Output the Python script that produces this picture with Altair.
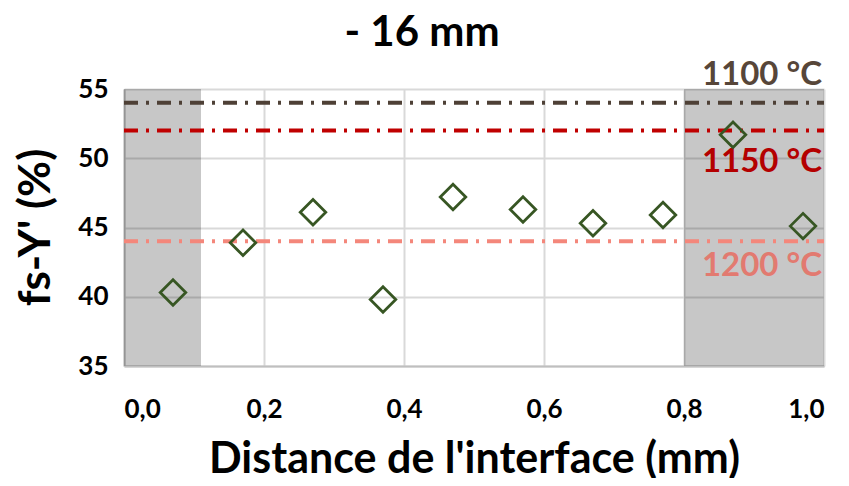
import altair as alt
import pandas as pd

# data
distance = [0.07, 0.17, 0.27, 0.37, 0.47, 0.57, 0.67, 0.77, 0.87, 0.97]
fraction = [40.3, 43.9, 46.1, 39.8, 47.2, 46.3, 45.3, 45.9, 51.7, 45.1]

temps = ["1100 °C", "1150 °C", "1200 °C"]
temp_values = [54.0, 52.0, 44.0]
temp_colors = ["#4e4036", "#c00000", "#f4877b"]
label_colors = ["#574639", "#b40000", "#e27a70"]
label_dy = [-28, 31, 25]

band_start = [0.0, 0.8]
band_end = [0.11, 1.0]

FONT = "Lato"

pts = pd.DataFrame({"x": distance, "y": fraction})
refs = pd.DataFrame({"t": temps, "v": temp_values, "c": temp_colors,
                     "lc": label_colors, "x": [1.0] * 3})
bands = pd.DataFrame({"x": band_start, "x2": band_end})

xscale = alt.Scale(domain=[0, 1], nice=False)
yscale = alt.Scale(domain=[35, 55], nice=False, zero=False)

xaxis = alt.Axis(values=[0, 0.2, 0.4, 0.6, 0.8, 1.0],
                 labelExpr="replace(format(datum.value, '.1f'), '.', ',')",
                 title="Distance de l'interface (mm)", labelFontSize=26,
                 labelFontWeight="bold", labelPadding=30, tickSize=0,
                 titleFontSize=43, titleFontWeight="bold",
                 titleBaseline="alphabetic", titleY=106,
                 gridColor="#d9d9d9", gridWidth=2,
                 domainColor="#bfbfbf", domainWidth=2, labelColor="#000")
yaxis = alt.Axis(values=[35, 40, 45, 50, 55], title="fs-Y' (%)",
                 labelFontSize=26, labelFontWeight="bold", labelPadding=16,
                 tickSize=0, titleFontSize=44, titleFontWeight="bold",
                 titleBaseline="middle", titleX=-88, titleY=138,
                 titleAngle=-90, gridColor="#d9d9d9", gridWidth=2,
                 domainColor="#bfbfbf", domainWidth=2, labelColor="#000")

band = alt.Chart(bands).mark_rect(color="#000000", opacity=0.22).encode(
    x=alt.X("x:Q", scale=xscale, axis=xaxis),
    x2="x2:Q",
    y=alt.value(0),
    y2=alt.value(277),
)

lines = alt.Chart(refs).mark_rule(strokeWidth=4, strokeDash=[14, 8, 3, 8]).encode(
    y=alt.Y("v:Q", scale=yscale, axis=yaxis),
    x=alt.value(0),
    x2=alt.value(700),
    color=alt.Color("c:N", scale=None),
)

label_layers = []
for t, dy in zip(temps, label_dy):
    label_layers.append(
        alt.Chart(refs).transform_filter(alt.datum.t == t).mark_text(
            align="right", baseline="middle", fontSize=33, fontWeight="bold",
            font=FONT, dx=-2, dy=dy).encode(
            x=alt.X("x:Q", scale=xscale),
            y=alt.Y("v:Q", scale=yscale),
            text="t:N",
            color=alt.Color("lc:N", scale=None),
        )
    )

points = alt.Chart(pts).mark_point(shape="diamond", size=650, filled=False,
                                   strokeWidth=2.8, color="#375623", opacity=1).encode(
    x=alt.X("x:Q", scale=xscale),
    y=alt.Y("y:Q", scale=yscale),
)

chart = alt.layer(band, lines, *label_layers, points).properties(
    width=700, height=277,
    title=alt.TitleParams("- 16 mm", fontSize=42, fontWeight="bold", font=FONT,
                          anchor="middle", dx=-52, dy=18, offset=22, color="#000"),
    autosize=alt.AutoSizeParams(type="none"),
    padding={"left": 116, "top": 81, "right": 17, "bottom": 112},
).configure(font=FONT).configure_view(stroke=None).configure_axis(
    labelFont=FONT, titleFont=FONT)

chart.save("out.html", embed_options={"renderer": "svg", "actions": False})
